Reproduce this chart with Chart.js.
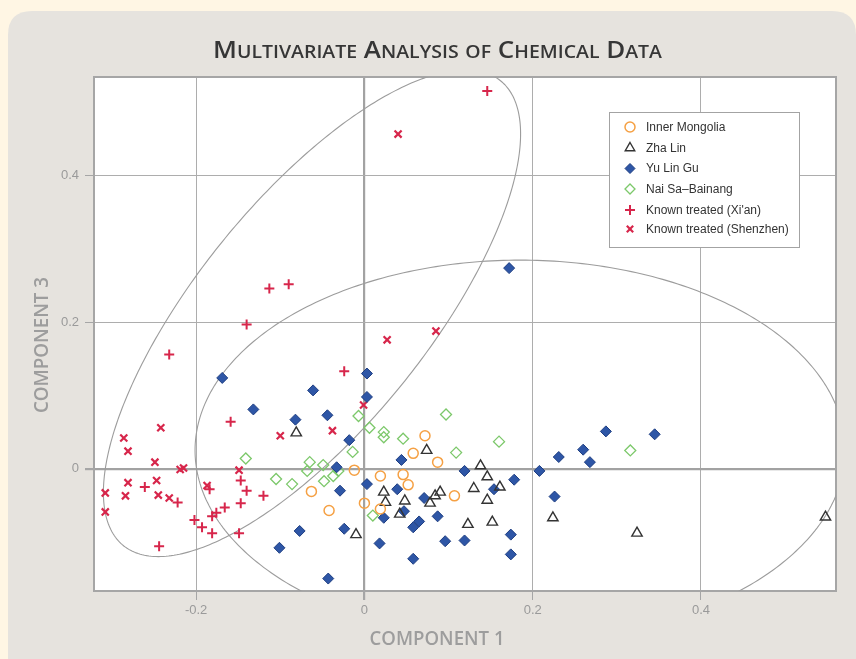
<!DOCTYPE html>
<html>
<head>
<meta charset="utf-8">
<script src="https://cdn.jsdelivr.net/npm/chart.js@4.4.1/dist/chart.umd.min.js"></script>
<style>
html,body{margin:0;padding:0;background:#FFF6E4;}
#wrap{width:856px;height:659px;position:relative;}
canvas{display:block;}
</style>
</head>
<body>
<div id="wrap"><canvas id="c" width="856" height="659"></canvas></div>
<script>
// ---------- text ----------
const chartTitle = "Multivariate Analysis of Chemical Data";
const xAxisTitle = "COMPONENT 1";
const yAxisTitle = "COMPONENT 3";
const seriesNames = ["Inner Mongolia", "Zha Lin", "Yu Lin Gu", "Nai Sa\u2013Bainang", "Known treated (Xi'an)", "Known treated (Shenzhen)"];

// ---------- axes ----------
const xRange = [-0.3214, 0.5605];
const yRange = [-0.167, 0.535];
const tickStep = 0.2;

// ---------- data [component1, component3] ----------
const innerMongolia = [
  [0.072,0.045],[0.058,0.021],[0.087,0.009],[-0.012,-0.002],[0.019,-0.010],[0.046,-0.008],
  [0.052,-0.022],[-0.063,-0.031],[0.000,-0.047],[-0.042,-0.057],[0.019,-0.055],[0.107,-0.037]
];
const zhaLin = [
  [-0.081,0.049],[-0.010,-0.090],[0.074,0.025],[0.138,0.004],[0.146,-0.011],[0.130,-0.027],
  [0.161,-0.025],[0.146,-0.043],[0.023,-0.032],[0.025,-0.046],[0.048,-0.044],[0.042,-0.062],
  [0.084,-0.037],[0.090,-0.032],[0.078,-0.047],[0.123,-0.076],[0.152,-0.073],[0.224,-0.067],
  [0.324,-0.088],[0.548,-0.066]
];
const yuLinGu = [
  [0.172,0.274],[-0.169,0.124],[-0.061,0.107],[0.003,0.130],[0.003,0.098],[-0.132,0.081],
  [-0.082,0.067],[-0.044,0.073],[-0.018,0.039],[-0.033,0.002],[0.044,0.012],[0.003,-0.021],
  [-0.029,-0.030],[0.039,-0.028],[0.071,-0.040],[0.119,-0.003],[0.178,-0.015],[0.154,-0.028],
  [0.208,-0.003],[0.231,0.016],[0.226,-0.038],[0.260,0.026],[0.268,0.009],[0.287,0.051],
  [0.345,0.047],[0.047,-0.058],[0.023,-0.067],[0.087,-0.065],[0.065,-0.072],[0.058,-0.080],
  [0.018,-0.102],[0.096,-0.099],[0.119,-0.098],[0.174,-0.090],[0.174,-0.117],[0.058,-0.123],
  [-0.077,-0.085],[-0.024,-0.082],[-0.101,-0.108],[-0.043,-0.150]
];
const naiSaBainang = [
  [-0.141,0.014],[-0.007,0.072],[0.006,0.056],[0.023,0.050],[0.023,0.043],[0.046,0.041],
  [0.097,0.074],[-0.014,0.023],[0.109,0.022],[0.160,0.037],[-0.065,0.009],[-0.049,0.005],
  [-0.068,-0.003],[-0.031,-0.003],[-0.037,-0.010],[-0.048,-0.017],[-0.105,-0.014],[-0.086,-0.021],
  [0.010,-0.064],[0.316,0.025]
];
const treatedXian = [
  [0.146,0.516],[-0.113,0.246],[-0.090,0.252],[-0.140,0.197],[-0.232,0.156],[-0.024,0.133],
  [-0.159,0.064],[-0.261,-0.025],[-0.222,-0.046],[-0.184,-0.028],[-0.147,-0.016],[-0.140,-0.030],
  [-0.120,-0.037],[-0.147,-0.047],[-0.166,-0.053],[-0.176,-0.060],[-0.181,-0.065],[-0.202,-0.070],
  [-0.193,-0.080],[-0.181,-0.088],[-0.149,-0.088],[-0.244,-0.106]
];
const treatedShenzhen = [
  [0.040,0.457],[0.085,0.188],[0.027,0.176],[-0.001,0.087],[-0.038,0.052],[-0.100,0.045],
  [-0.149,-0.002],[-0.187,-0.023],[-0.215,0.001],[-0.219,-0.001],[-0.242,0.056],[-0.286,0.042],
  [-0.281,0.024],[-0.249,0.009],[-0.281,-0.019],[-0.247,-0.016],[-0.308,-0.033],[-0.284,-0.037],
  [-0.245,-0.036],[-0.232,-0.040],[-0.308,-0.059]
];

// ---------- confidence ellipses: centre, conjugate half-diameters A and B (data units) ----------
const ellipseCenters = [[-0.0623,0.2124],[0.1851,0.0250]];
const ellipseAxisA   = [[0.1677,0.0],[0.3864,0.0]];
const ellipseAxisB   = [[0.1826,0.3324],[0.0,0.2599]];

// ---------- styles ----------
const RED = '#D7264B';
const styles = [
  {pointStyle:'circle',   radius:5,   borderColor:'#F5A043', backgroundColor:'rgba(0,0,0,0)', borderWidth:1.5},
  {pointStyle:'triangle', radius:6,   borderColor:'#333333', backgroundColor:'rgba(0,0,0,0)', borderWidth:1.4},
  {pointStyle:'rectRot',  radius:5.5, borderColor:'#1E3E82', backgroundColor:'#2E56A6',       borderWidth:1},
  {pointStyle:'rectRot',  radius:5.5, borderColor:'#7CC86A', backgroundColor:'rgba(0,0,0,0)', borderWidth:1.3},
  {pointStyle:'cross',    radius:5,   borderColor:RED,       backgroundColor:RED,             borderWidth:2},
  {pointStyle:'crossRot', radius:5,   borderColor:RED,       backgroundColor:RED,             borderWidth:2.2}
];
const seriesData = [innerMongolia, zhaLin, yuLinGu, naiSaBainang, treatedXian, treatedShenzhen];

const datasets = seriesData.map((arr, i) => ({
  label: seriesNames[i],
  data: arr.map(p => ({x: p[0], y: p[1]})),
  showLine: false,
  pointStyle: styles[i].pointStyle,
  pointRadius: styles[i].radius,
  pointHoverRadius: styles[i].radius,
  pointBorderColor: styles[i].borderColor,
  pointBackgroundColor: styles[i].backgroundColor,
  pointBorderWidth: styles[i].borderWidth
}));

function drawMarker(ctx, st, x, y) {
  const r = st.radius;
  ctx.save();
  ctx.lineWidth = st.borderWidth;
  ctx.strokeStyle = st.borderColor;
  ctx.fillStyle = st.backgroundColor;
  ctx.beginPath();
  if (st.pointStyle === 'circle') {
    ctx.arc(x, y, r, 0, Math.PI * 2);
    ctx.fill(); ctx.stroke();
  } else if (st.pointStyle === 'triangle') {
    ctx.moveTo(x, y - r);
    ctx.lineTo(x + 0.866 * r, y + 0.5 * r);
    ctx.lineTo(x - 0.866 * r, y + 0.5 * r);
    ctx.closePath(); ctx.fill(); ctx.stroke();
  } else if (st.pointStyle === 'rectRot') {
    ctx.moveTo(x - r, y); ctx.lineTo(x, y - r); ctx.lineTo(x + r, y); ctx.lineTo(x, y + r);
    ctx.closePath(); ctx.fill(); ctx.stroke();
  } else if (st.pointStyle === 'cross') {
    ctx.moveTo(x, y - r); ctx.lineTo(x, y + r); ctx.moveTo(x - r, y); ctx.lineTo(x + r, y);
    ctx.stroke();
  } else if (st.pointStyle === 'crossRot') {
    const d = r * Math.SQRT1_2;
    ctx.moveTo(x - d, y - d); ctx.lineTo(x + d, y + d); ctx.moveTo(x - d, y + d); ctx.lineTo(x + d, y - d);
    ctx.stroke();
  }
  ctx.restore();
}

function drawFittedText(ctx, segs, cx, baseline, targetWidth, color) {
  let total = 0;
  segs.forEach(s => { ctx.font = s.font; s.w = ctx.measureText(s.t).width; total += s.w; });
  ctx.save();
  ctx.translate(cx, baseline);
  ctx.scale(targetWidth / total, 1);
  ctx.fillStyle = color;
  ctx.textBaseline = 'alphabetic';
  ctx.textAlign = 'left';
  let x = -total / 2;
  segs.forEach(s => { ctx.font = s.font; ctx.fillText(s.t, x, 0); x += s.w; });
  ctx.restore();
}

const decorPlugin = {
  id: 'decor',
  beforeDraw(chart) {
    const ctx = chart.ctx, ca = chart.chartArea;
    ctx.save();
    ctx.fillStyle = '#FFF6E4';
    ctx.fillRect(0, 0, chart.width, chart.height);
    const px = 8, py = 11, pr = 24;
    ctx.fillStyle = '#E6E3DE';
    ctx.beginPath();
    ctx.moveTo(px + pr, py);
    ctx.lineTo(chart.width - pr, py);
    ctx.quadraticCurveTo(chart.width, py, chart.width, py + pr);
    ctx.lineTo(chart.width, chart.height);
    ctx.lineTo(px, chart.height);
    ctx.lineTo(px, py + pr);
    ctx.quadraticCurveTo(px, py, px + pr, py);
    ctx.closePath();
    ctx.fill();
    ctx.fillStyle = '#FFFFFF';
    ctx.fillRect(ca.left, ca.top, ca.right - ca.left, ca.bottom - ca.top);
    ctx.restore();
  },
  beforeDatasetsDraw(chart) {
    const ctx = chart.ctx, ca = chart.chartArea;
    const xs = chart.scales.x, ys = chart.scales.y;
    ctx.save();
    ctx.strokeStyle = '#A6A6A6';
    ctx.lineWidth = 2;
    ctx.strokeRect(ca.left, ca.top, ca.right - ca.left, ca.bottom - ca.top);
    ctx.restore();
    ctx.save();
    ctx.beginPath();
    ctx.rect(ca.left, ca.top, ca.right - ca.left, ca.bottom - ca.top);
    ctx.clip();
    ctx.strokeStyle = '#9C9C9C';
    ctx.lineWidth = 1.1;
    for (let e = 0; e < ellipseCenters.length; e++) {
      const c = ellipseCenters[e], A = ellipseAxisA[e], B = ellipseAxisB[e];
      ctx.beginPath();
      const N = 360;
      for (let k = 0; k <= N; k++) {
        const t = k / N * Math.PI * 2;
        const dx = c[0] + A[0] * Math.cos(t) + B[0] * Math.sin(t);
        const dy = c[1] + A[1] * Math.cos(t) + B[1] * Math.sin(t);
        const X = xs.getPixelForValue(dx), Y = ys.getPixelForValue(dy);
        if (k === 0) ctx.moveTo(X, Y); else ctx.lineTo(X, Y);
      }
      ctx.stroke();
    }
    ctx.restore();
  },
  afterDraw(chart) {
    const ctx = chart.ctx;
    const segs = [];
    for (const ch of chartTitle) {
      const upper = ch !== ch.toLowerCase() || ch === ' ';
      segs.push({t: ch.toUpperCase(), font: upper ? '600 24px "Open Sans"' : '600 18px "Open Sans"'});
    }
    drawFittedText(ctx, segs, 437.5, 58, 449, '#363636');
    drawFittedText(ctx, [{t: xAxisTitle, font: '600 19px "Open Sans"'}], 437, 645, 135, '#9D9D9D');
    ctx.save();
    ctx.translate(48, 345);
    ctx.rotate(-Math.PI / 2);
    drawFittedText(ctx, [{t: yAxisTitle, font: '600 19px "Open Sans"'}], 0, 0, 136, '#9D9D9D');
    ctx.restore();
    const lx = 609, ly = 112, lw = 190, lh = 135;
    ctx.save();
    ctx.fillStyle = '#FFFFFF';
    ctx.fillRect(lx, ly, lw, lh);
    ctx.strokeStyle = '#A3A3A3';
    ctx.lineWidth = 1;
    ctx.strokeRect(lx + 0.5, ly + 0.5, lw, lh);
    const rows = [127, 148, 168.5, 189, 210, 229];
    ctx.font = '12px "Liberation Sans", Arial, sans-serif';
    ctx.fillStyle = '#333333';
    ctx.textBaseline = 'middle';
    ctx.textAlign = 'left';
    seriesNames.forEach((n, i) => {
      const st = Object.assign({}, styles[i]);
      if (st.pointStyle === 'rectRot') st.radius = 5;
      if (st.pointStyle === 'triangle') st.radius = 5.5;
      if (st.pointStyle === 'crossRot') st.radius = 4.5;
      drawMarker(ctx, st, 630, rows[i]);
      ctx.fillText(n, 646, rows[i] + 0.5);
    });
    ctx.restore();
  }
};

function fmtTick(v) {
  const r = Math.round(v * 10) / 10;
  if (Math.abs(r) < 1e-9) return '0';
  return String(r);
}
function isZero(ctx) { return ctx.tick && Math.abs(ctx.tick.value) < 1e-9; }

const tickFont = {family: '"Liberation Sans", Arial, sans-serif', size: 13};

new Chart(document.getElementById('c'), {
  type: 'scatter',
  data: {datasets: datasets},
  plugins: [decorPlugin],
  options: {
    responsive: false,
    animation: false,
    devicePixelRatio: 1,
    events: [],
    layout: {padding: {left: 0, top: 77, right: 20, bottom: 0}},
    plugins: {legend: {display: false}, title: {display: false}, tooltip: {enabled: false}},
    scales: {
      x: {
        type: 'linear', min: xRange[0], max: xRange[1],
        afterFit: s => { s.height = 68; },
        ticks: {stepSize: tickStep, includeBounds: false, color: '#9A9A9A', font: tickFont, padding: 3, callback: fmtTick},
        grid: {color: c => isZero(c) ? '#A2A2A2' : '#ADADAD', lineWidth: c => isZero(c) ? 2.2 : 1, tickLength: 9, tickColor: '#A6A6A6', drawTicks: true},
        border: {display: false}
      },
      y: {
        type: 'linear', min: yRange[0], max: yRange[1],
        afterFit: s => { s.width = 94; },
        ticks: {stepSize: tickStep, includeBounds: false, color: '#9A9A9A', font: tickFont, padding: 6, callback: fmtTick},
        grid: {color: c => isZero(c) ? '#A2A2A2' : '#ADADAD', lineWidth: c => isZero(c) ? 2.2 : 1, tickLength: 9, tickColor: '#A6A6A6', drawTicks: true},
        border: {display: false}
      }
    }
  }
});
</script>
</body>
</html>
